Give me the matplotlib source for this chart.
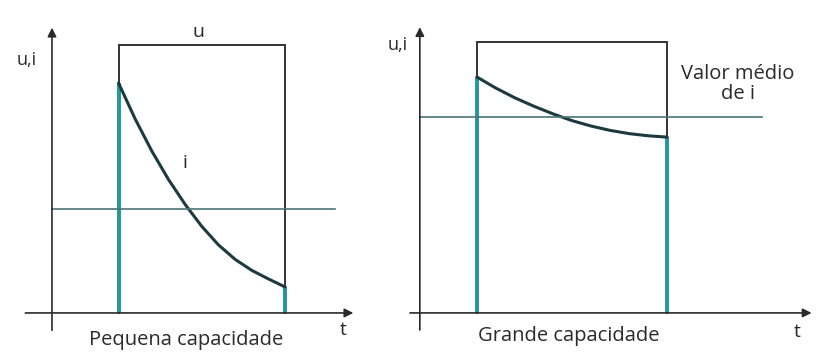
import numpy as np
import matplotlib
matplotlib.use("Agg")
import matplotlib.pyplot as plt

plt.rcParams["font.family"] = ["Open Sans", "DejaVu Sans"]

# voltage pulse (same amplitude in both cases)
u_level = 10.0

# small capacitance: fast decay of the charging current
t_small = [2.0, 2.5, 3.0, 3.5, 4.0, 4.5, 5.0, 5.5, 6.0, 6.5, 7.0]
i_small = [8.58, 7.24, 6.04, 4.98, 4.05, 3.23, 2.54, 2.00, 1.59, 1.27, 0.97]
mean_small = 3.88

# large capacitance: slow decay
t_large = [1.5, 2.0, 2.5, 3.0, 3.5, 4.0, 4.5, 5.0, 5.5, 6.0, 6.5]
i_large = [8.71, 8.30, 7.94, 7.63, 7.35, 7.10, 6.90, 6.74, 6.62, 6.54, 6.49]
mean_large = 7.23

titles = ["Pequena capacidade", "Grande capacidade"]

teal = "#23979a"
curve_c = "#1d3a40"
mean_c = "#4d7477"
ink = "#2a2a2a"

fig = plt.figure(figsize=(8.16, 3.57), dpi=100)
W, H = 816, 357


def panel(box, xlim, ylim):
    x0, y0, x1, y1 = box
    ax = fig.add_axes([x0 / W, (H - y1) / H, (x1 - x0) / W, (y1 - y0) / H])
    ax.set_xlim(*xlim)
    ax.set_ylim(*ylim)
    ax.axis("off")
    return ax


def arrow(ax, start, tip):
    ax.annotate("", xy=tip, xytext=start,
                arrowprops=dict(arrowstyle="-|>", color=ink, lw=1.2,
                                mutation_scale=13, shrinkA=0, shrinkB=0))


def draw(ax, t, i, mean, x_axis, y_axis, mean_end):
    arrow(ax, (x_axis[0], 0), (x_axis[1], 0))
    arrow(ax, (0, y_axis[0]), (0, y_axis[1]))
    t_on, t_off = t[0], t[-1]
    # u: rectangular pulse
    ax.plot([t_on, t_on, t_off, t_off], [0, u_level, u_level, 0],
            color="#333333", lw=1.4, solid_joinstyle="miter")
    # i: jumps up, decays, drops back to zero
    ax.plot([t_on, t_on], [0, i[0]], color=teal, lw=2.8, solid_capstyle="butt")
    ax.plot([t_off, t_off], [0, i[-1]], color=teal, lw=2.8, solid_capstyle="butt")
    ax.plot(t, i, color=curve_c, lw=2.2, solid_capstyle="round",
            solid_joinstyle="round")
    ax.plot([0, mean_end], [mean, mean], color=mean_c, lw=1.2)


# left panel
axL = panel((20, 25, 355, 340), (-0.96, 9.10), (-1.01, 10.75))
draw(axL, t_small, i_small, mean_small, (-0.8, 9.05), (-0.65, 10.65), 8.5)
axL.text(-0.75, 9.44, "u,i", ha="center", va="center", fontsize=13, color=ink)
axL.text(4.4, u_level + 0.15, "u", ha="center", va="bottom", fontsize=14, color=ink)
axL.text(4.0, 5.6, "i", ha="center", va="center", fontsize=14, color=ink)
axL.text(8.74, -0.63, "t", ha="center", va="center", fontsize=14, color=ink)
axL.text(4.02, -1.0, titles[0], ha="center", va="center", fontsize=14.5, color=ink)

# right panel
axR = panel((405, 25, 815, 340), (-0.39, 10.39), (-1.0, 10.63))
draw(axR, t_large, i_large, mean_large, (-0.26, 10.3), (-0.63, 10.55), 9.0)
axR.text(-0.58, 9.89, "u,i", ha="center", va="center", fontsize=13, color=ink)
axR.text(9.92, -0.70, "t", ha="center", va="center", fontsize=14, color=ink)
axR.text(3.92, -0.85, titles[1], ha="center", va="center", fontsize=14.5, color=ink)
axR.text(8.37, 8.45, "Valor médio\nde i", ha="center", va="center",
         fontsize=14.5, color=ink, linespacing=1.0)

fig.savefig("out.png", dpi=100)
